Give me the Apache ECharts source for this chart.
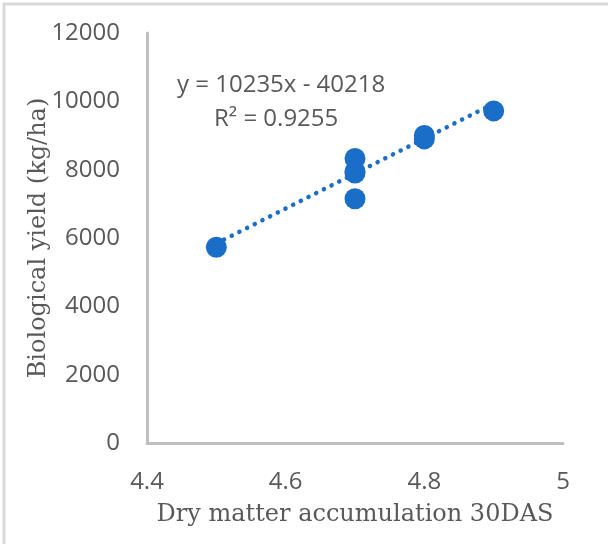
<!DOCTYPE html>
<html>
<head>
<meta charset="utf-8">
<script src="https://cdn.jsdelivr.net/npm/echarts@6/dist/echarts.min.js"></script>
<style>html,body{margin:0;padding:0;background:#fff}#c{width:608px;height:544px}</style>
</head>
<body>
<div id="c"></div>
<script>
// Data
const xValues = [4.5, 4.7, 4.7, 4.7, 4.7, 4.8, 4.8, 4.9];
const yValues = [5730, 8330, 7950, 7900, 7150, 8900, 9000, 9720];
const trendSlope = 10235;
const trendIntercept = -40218;
const trendX = [4.5, 4.9];
const equationText = 'y = 10235x - 40218';
const r2Text = 'R² = 0.9255';
const xTicks = [4.4, 4.6, 4.8, 5];
const yTicks = [0, 2000, 4000, 6000, 8000, 10000, 12000];

const points = xValues.map((x, i) => [x, yValues[i]]);
const trend = trendX.map(x => [x, trendSlope * x + trendIntercept]);

const chart = echarts.init(document.getElementById('c'));
const labelColor = '#595959';
const sans = '"Open Sans", sans-serif';
const serif = '"DejaVu Serif", serif';
chart.setOption({
  animation: false,
  grid: {left: 147, right: 45, top: 33, bottom: 101, containLabel: false, outerBoundsMode: 'none'},
  graphic: [
    {type: 'rect', shape: {x: 4, y: 4, width: 700, height: 700},
     style: {fill: 'none', stroke: '#d9d9d9', lineWidth: 3}, z: -1},
    {type: 'text', left: 177, top: 73,
     style: {text: equationText, font: '24px "Open Sans", sans-serif', fill: labelColor}},
    {type: 'text', left: 214, top: 107,
     style: {text: r2Text, font: '24px "Open Sans", sans-serif', fill: labelColor}}
  ],
  xAxis: {
    type: 'value', min: 4.4, max: 5, interval: 0.2,
    axisLine: {show: true, onZero: false, lineStyle: {color: '#bfbfbf', width: 3}},
    axisTick: {show: false}, splitLine: {show: false},
    axisLabel: {color: labelColor, fontSize: 24, fontFamily: sans, margin: 27,
      formatter: v => { const t = xTicks.find(tt => Math.abs(tt - v) < 1e-6); return t === undefined ? '' : String(t); }},
    name: 'Dry matter accumulation 30DAS', nameLocation: 'middle', nameGap: 60, nameMoveOverlap: false,
    nameTextStyle: {color: labelColor, fontSize: 24, fontFamily: serif}
  },
  yAxis: {
    type: 'value', min: 0, max: 12000, interval: 2000,
    axisLine: {show: true, lineStyle: {color: '#bfbfbf', width: 3}},
    axisTick: {show: false}, splitLine: {show: false},
    axisLabel: {color: labelColor, fontSize: 24, fontFamily: sans, margin: 27,
      formatter: v => { const t = yTicks.find(tt => tt === v); return t === undefined ? '' : String(t); }},
    name: 'Biological yield (kg/ha)', nameLocation: 'middle', nameGap: 96, nameMoveOverlap: false,
    nameTextStyle: {color: labelColor, fontSize: 24, fontFamily: serif}
  },
  series: [
    {type: 'line', data: trend, showSymbol: false, symbol: 'none',
     lineStyle: {color: '#1a6ec8', width: 4.5, type: [0.1, 8.5], cap: 'round'}, z: 2},
    {type: 'scatter', data: points, symbolSize: 21,
     itemStyle: {color: '#1a6ec8', opacity: 1}, z: 3}
  ]
});
</script>
</body>
</html>
